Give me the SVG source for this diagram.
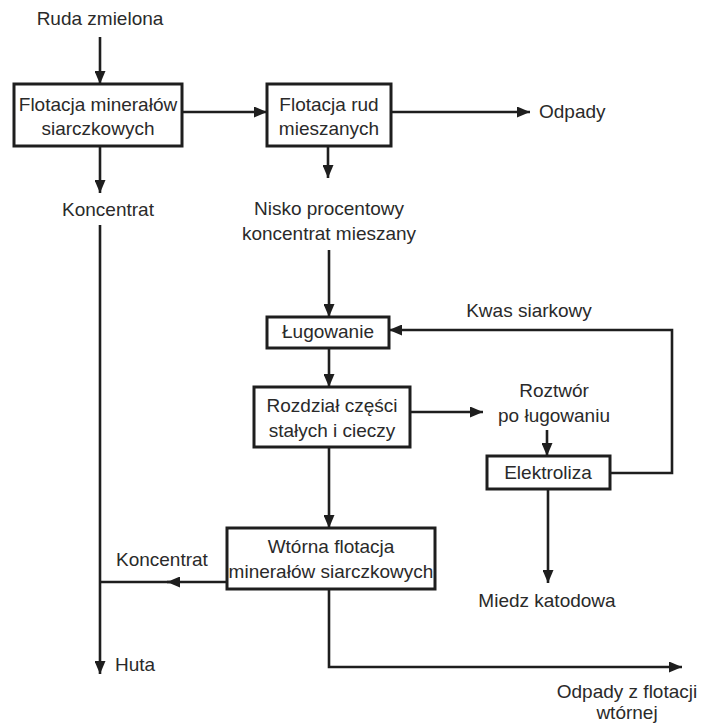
<svg xmlns="http://www.w3.org/2000/svg" width="701" height="727" viewBox="0 0 701 727">
<defs>
<marker id="ah" markerUnits="userSpaceOnUse" markerWidth="13" markerHeight="11" refX="13" refY="5.5" orient="auto">
<path d="M0,0 L13,5.5 L0,11 z" fill="#1e1e1e"/>
</marker>
<style>
text{font-family:"Liberation Sans",Arial,sans-serif;font-size:19px;fill:#2a2a2a;text-anchor:middle}
.box{fill:#fff;stroke:#1e1e1e;stroke-width:3}
.c{fill:none;stroke:#1e1e1e;stroke-width:2.6}
.a{marker-end:url(#ah)}
</style>
</defs>
<rect width="701" height="727" fill="#fff"/>
<g id="connectors">
<path class="c a" d="M100,37 V84"/>
<path class="c a" d="M182,112 H267"/>
<path class="c a" d="M391,112 H530"/>
<path class="c a" d="M100,146 V193"/>
<path class="c a" d="M328,146 V178"/>
<path class="c a" d="M100,225 V674"/>
<path class="c a" d="M329,250 V317"/>
<path class="c a" d="M329,348 V387"/>
<path class="c a" d="M410,412 H483"/>
<path class="c a" d="M547,430 V456"/>
<path class="c a" d="M610,473 H672 V330 H389"/>
<path class="c a" d="M329,447 V528"/>
<path class="c a" d="M548,489 V583"/>
<path class="c a" d="M227,582 H167"/>
<path class="c" d="M170,582 H100"/>
<path class="c a" d="M329,589 V667 H682"/>
</g>
<g id="ruda"><text x="100" y="25">Ruda zmielona</text></g>
<g id="flot1"><rect class="box" x="14" y="84" width="168" height="62"/><text x="98" y="111">Flotacja minerałów</text><text x="98" y="135">siarczkowych</text></g>
<g id="flot2"><rect class="box" x="267" y="84" width="124" height="62"/><text x="329" y="111">Flotacja rud</text><text x="329" y="135">mieszanych</text></g>
<g id="odpady"><text x="539" y="118" style="text-anchor:start">Odpady</text></g>
<g id="konc1"><text x="108" y="216">Koncentrat</text></g>
<g id="nisko"><text x="329" y="215">Nisko procentowy</text><text x="329" y="240">koncentrat mieszany</text></g>
<g id="lug"><rect class="box" x="267" y="317" width="122" height="31"/><text x="328" y="338">Ługowanie</text></g>
<g id="kwas"><text x="529" y="317">Kwas siarkowy</text></g>
<g id="rozdzial"><rect class="box" x="254" y="387" width="156" height="60"/><text x="332" y="412">Rozdział części</text><text x="332" y="437">stałych i cieczy</text></g>
<g id="roztwor"><text x="554" y="397">Roztwór</text><text x="554" y="422">po ługowaniu</text></g>
<g id="elektroliza"><rect class="box" x="487" y="456" width="123" height="33"/><text x="548" y="479">Elektroliza</text></g>
<g id="wtorna"><rect class="box" x="227" y="528" width="208" height="61"/><text x="331" y="553">Wtórna flotacja</text><text x="331" y="578">minerałów siarczkowych</text></g>
<g id="konc2"><text x="116" y="566" style="text-anchor:start">Koncentrat</text></g>
<g id="miedz"><text x="547" y="607">Miedz katodowa</text></g>
<g id="huta"><text x="115" y="671" style="text-anchor:start">Huta</text></g>
<g id="odpady2"><text x="627" y="698">Odpady z flotacji</text><text x="627" y="719">wtórnej</text></g>
</svg>
